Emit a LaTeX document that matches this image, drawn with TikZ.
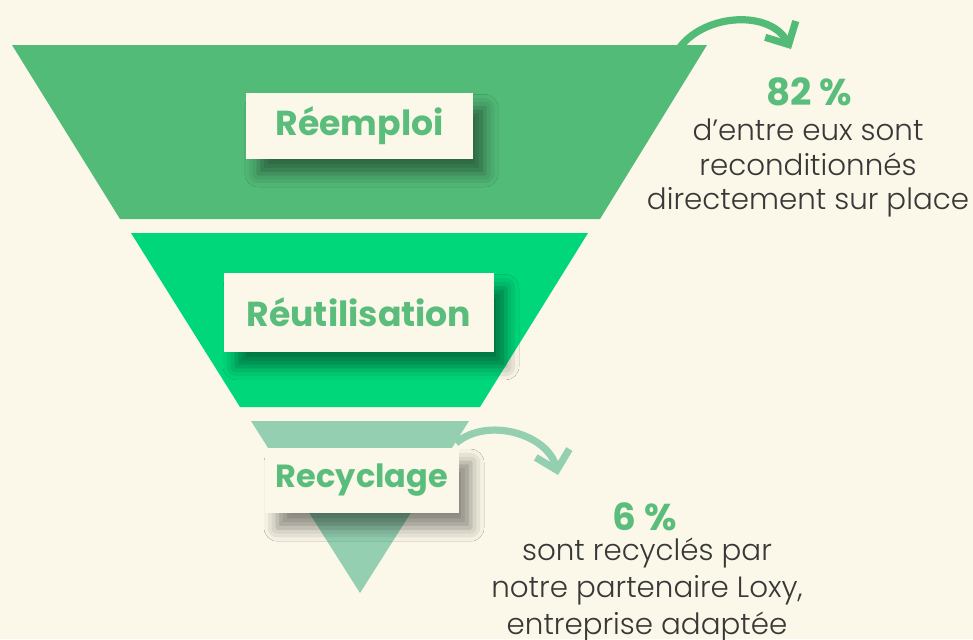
\documentclass[tikz,border=0pt]{standalone}
\usepackage{fontspec}
\setmainfont{Poppins}
\newfontfamily\lightfont{Poppins Light}
\usetikzlibrary{arrows.meta,shadows.blur}

\definecolor{cream}{HTML}{FBF8E9}
\definecolor{leafgreen}{HTML}{53BB78}
\definecolor{brightgreen}{HTML}{00D77A}
\definecolor{palegreen}{HTML}{93CFB0}
\definecolor{labelgreen}{HTML}{5ABD7C}
\definecolor{bodygrey}{HTML}{383838}

\tikzset{
  tag/.style={fill=cream, text=labelgreen, inner sep=0pt,
    font=\fontsize{26}{30}\selectfont\bfseries,
    blur shadow={shadow xshift=9pt, shadow yshift=-11pt,
      shadow blur radius=10pt, shadow opacity=45}},
  pct/.style={text=labelgreen, font=\fontsize{28}{32}\selectfont\bfseries},
  note/.style={text=bodygrey, align=center, inner sep=0pt,
    font=\lightfont\fontsize{22}{26}\selectfont},
  bendarrow/.style={line width=5.4pt, -{Straight Barb[length=13pt, width=26pt]}},
}

\begin{document}
\begin{tikzpicture}[x=0.75pt, y=-0.75pt]
    % Background
    \fill[cream] (0,0) rectangle (973,639);
    \useasboundingbox (0,0) rectangle (973,639);

    % Funnel
    \fill[leafgreen] (12,45) -- (707,45) -- (600,219) -- (120,219) -- cycle;
    \fill[brightgreen] (131,233) -- (588,233) -- (480,407) -- (240,407) -- cycle;
    \fill[palegreen] (251,421) -- (469,421) -- (360,593) -- cycle;

    % Labels
    \node[tag, minimum width=170pt, minimum height=49.5pt] (reuse) at (359.5,126) {Réemploi};
    \node[tag, minimum width=202pt, minimum height=59pt] (repurpose) at (359,312.5) {Réutilisation};
    \node[tag, minimum width=145pt, minimum height=49pt, font=\fontsize{24}{28}\selectfont\bfseries] (recycle) at (362,480.5) {Recyclage};

    % Figures
    \node[pct] (pctTop) at (809,92) {82 \%};
    \node[note] (noteTop) at (808,168) {d’entre eux sont\\reconditionnés\\directement sur place};
    \node[pct] (pctLow) at (645,517) {6 \%};
    \node[note, font=\lightfont\fontsize{22}{27.5}\selectfont] (noteLow) at (647,590) {sont recyclés par\\notre partenaire Loxy,\\entreprise adaptée};

    % Arrows
    \coordinate (topStart) at (680,47);
    \coordinate (topEnd) at (791,49);
    \coordinate (lowStart) at (456,443);
    \coordinate (lowEnd) at (558,475);
    \draw[bendarrow, leafgreen] (topStart) to[out=52, in=118] (topEnd);
    \draw[bendarrow, palegreen] (lowStart) to[out=40, in=104] (lowEnd);
\end{tikzpicture}
\end{document}
